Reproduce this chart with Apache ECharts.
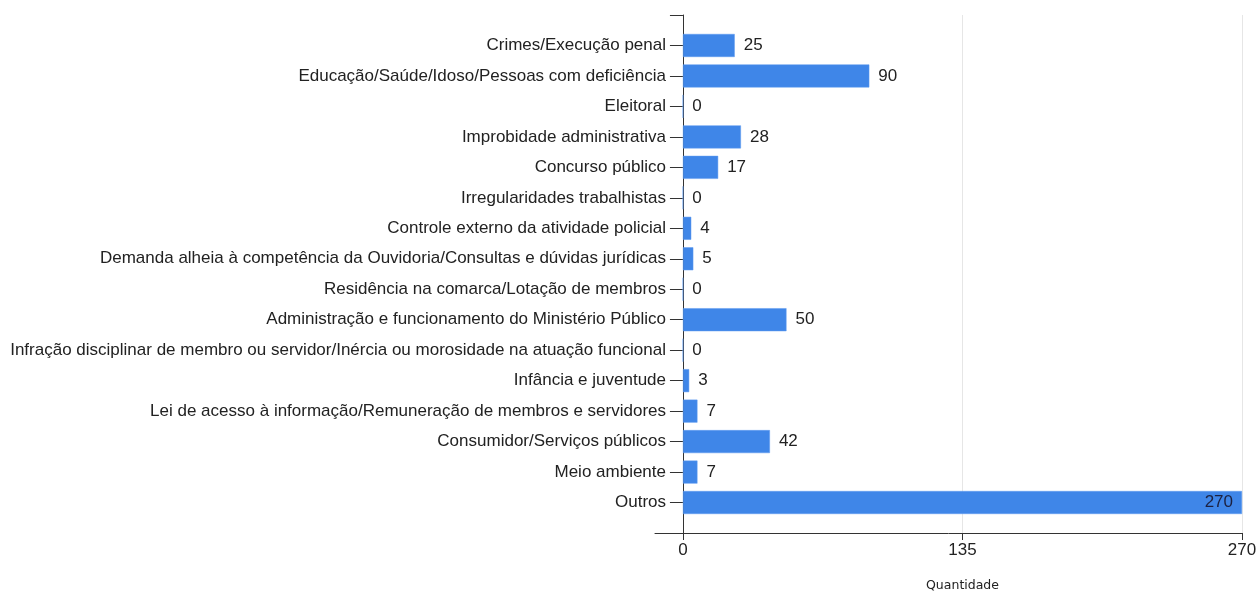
<!DOCTYPE html>
<html>
<head>
<meta charset="utf-8">
<script src="https://cdn.jsdelivr.net/npm/echarts@6/dist/echarts.min.js"></script>
<style>
  html, body { margin: 0; padding: 0; background: #fff; }
  #chart { width: 1259px; height: 594px; }
</style>
</head>
<body>
<div id="chart"></div>
<script>
// Manifestações por assunto
const categories = [
  'Crimes/Execução penal',
  'Educação/Saúde/Idoso/Pessoas com deficiência',
  'Eleitoral',
  'Improbidade administrativa',
  'Concurso público',
  'Irregularidades trabalhistas',
  'Controle externo da atividade policial',
  'Demanda alheia à competência da Ouvidoria/Consultas e dúvidas jurídicas',
  'Residência na comarca/Lotação de membros',
  'Administração e funcionamento do Ministério Público',
  'Infração disciplinar de membro ou servidor/Inércia ou morosidade na atuação funcional',
  'Infância e juventude',
  'Lei de acesso à informação/Remuneração de membros e servidores',
  'Consumidor/Serviços públicos',
  'Meio ambiente',
  'Outros'
];
const quantidades = [25, 90, 0, 28, 17, 0, 4, 5, 0, 50, 0, 3, 7, 42, 7, 270];
const xTicks = [0, 135, 270];
const xName = 'Quantidade';

const xMax = xTicks[xTicks.length - 1];
const xStep = xTicks[1] - xTicks[0];
const xMin = -xStep / 10;   // axis line runs a little left of zero

// empty slots above and below keep the first/last bar off the axis ends
const yData = [''].concat(categories, ['']);
const seriesData = [null].concat(quantidades.map(v => {
  if (v === xMax) {
    return { value: v, label: { position: 'insideRight', distance: 9, color: '#1c2140' } };
  }
  return v;
}), [null]);

const font = 'Arial, "Liberation Sans", sans-serif';
const fs = 17;
const chart = echarts.init(document.getElementById('chart'), null, { renderer: 'canvas' });
chart.setOption({
  animation: false,
  backgroundColor: '#ffffff',
  grid: { left: 655, right: 17, top: 15, bottom: 61, containLabel: false, outerBoundsMode: 'none' },
  xAxis: {
    type: 'value',
    min: xMin,
    max: xMax,
    interval: -xMin,
    name: xName,
    nameLocation: 'middle',
    nameGap: 46,
    nameTextStyle: {
      fontFamily: '"DejaVu Sans", Verdana, sans-serif',
      fontSize: 12.5,
      color: '#222',
      padding: [0, 0, 0, 28]   // centre the title under the 0–max span
    },
    axisLine: { show: true, lineStyle: { color: '#333', width: 1 } },
    axisTick: { show: true, length: 7, customValues: xTicks, lineStyle: { color: '#333' } },
    axisLabel: { customValues: xTicks, margin: 9, fontFamily: font, fontSize: fs, color: '#222' },
    splitLine: { show: true, lineStyle: { color: '#e6e6e6', width: 1 } }
  },
  yAxis: {
    type: 'category',
    data: yData,
    inverse: true,
    boundaryGap: false,
    axisLine: { show: true, onZero: true, lineStyle: { color: '#333', width: 1 } },
    axisTick: { show: true, length: 13, interval: 0, lineStyle: { color: '#333' } },
    axisLabel: { interval: 0, margin: -11, fontFamily: font, fontSize: fs, color: '#222' },
    splitLine: { show: false }
  },
  series: [{
    type: 'bar',
    data: seriesData,
    barWidth: 23,
    itemStyle: { color: '#3f86e8', borderColor: '#5e9bf0', borderWidth: 0.5 },
    label: {
      show: true,
      position: 'right',
      distance: 9,
      fontFamily: font,
      fontSize: fs,
      color: '#222',
      formatter: p => (p.value == null ? '' : String(p.value))
    }
  }]
});
</script>
</body>
</html>
